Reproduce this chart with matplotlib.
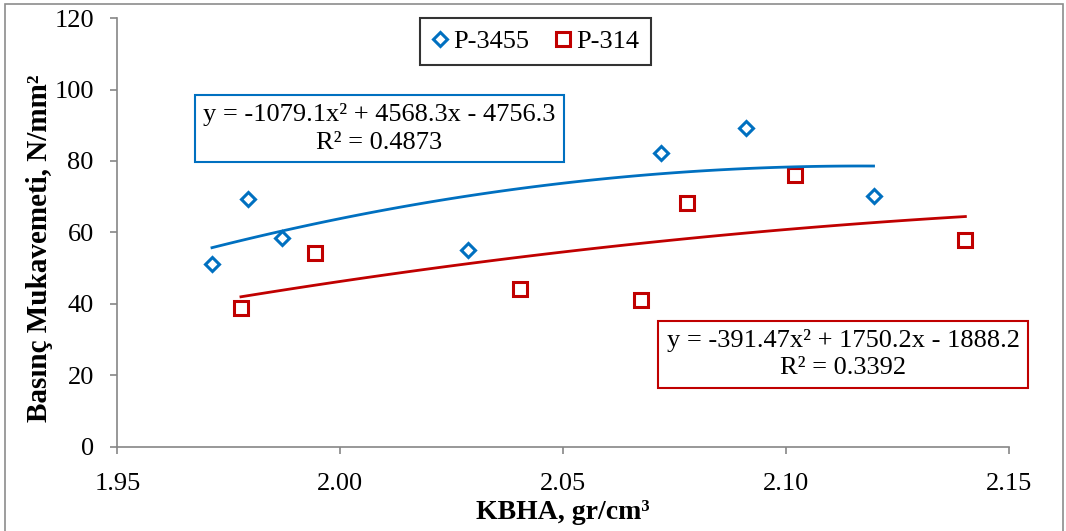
import numpy as np
import matplotlib.pyplot as plt
from matplotlib.patches import Rectangle

plt.rcParams['font.family'] = ['Liberation Serif', 'DejaVu Serif']

# P-3455 (mavi) ve P-314 (kırmızı) ölçümleri
x_3455 = [1.9712, 1.9793, 1.9869, 2.0286, 2.0719, 2.0909, 2.1196]
y_3455 = [51.2, 69.4, 58.5, 55.1, 82.2, 89.2, 70.2]
x_314 = [1.9777, 1.9943, 2.0402, 2.0674, 2.0777, 2.1020, 2.1402]
y_314 = [38.9, 54.3, 44.2, 41.1, 68.3, 76.1, 57.9]

# trend denklemleri (grafikteki katsayılar)
coef_3455 = [-1079.1, 4568.3, -4756.3]
coef_314 = [-391.47, 1750.2, -1888.2]
r2_3455 = 0.4873
r2_314 = 0.3392

blue = '#0070C0'
red = '#C00000'
grey = '#868686'

fig = plt.figure(figsize=(10.66, 5.31), dpi=100)
ax = fig.add_axes([0.1102, 0.1582, 0.8364, 0.8079])

# dış çerçeve
fig.patches.append(Rectangle((0.0047, -0.02), 0.9925, 1.0125, transform=fig.transFigure,
                             fill=False, edgecolor='#8c8c8c', lw=1.2))

ax.plot(x_3455, y_3455, 'D', ms=7.5, mfc='none', mec=blue, mew=2.2, label='P-3455', ls='none')
ax.plot(x_314, y_314, 's', ms=9.5, mfc='none', mec=red, mew=2.2, label='P-314', ls='none')

xx = np.linspace(min(x_3455), max(x_3455), 100)
ax.plot(xx, np.polyval(coef_3455, xx), color=blue, lw=2)
xx = np.linspace(min(x_314), max(x_314), 100)
ax.plot(xx, np.polyval(coef_314, xx), color=red, lw=2)

ax.text(2.0087, 89.1, f'y = -1079.1x² + 4568.3x - 4756.3\nR² = {r2_3455}', ha='center', va='center',
        fontsize=19, linespacing=1.3,
        bbox=dict(boxstyle='square,pad=0.32', fc='white', ec=blue, lw=1.5))
ax.text(2.1128, 26.0, f'y = -391.47x² + 1750.2x - 1888.2\nR² = {r2_314}', ha='center', va='center',
        fontsize=19, linespacing=1.3,
        bbox=dict(boxstyle='square,pad=0.32', fc='white', ec=red, lw=1.5))

ax.set_xlim(1.95, 2.15)
ax.set_ylim(0, 120)
ax.set_xticks([1.95, 2.00, 2.05, 2.10, 2.15])
ax.set_xticklabels(['1.95', '2.00', '2.05', '2.10', '2.15'])
ax.set_yticks(range(0, 121, 20))

for s in ['top', 'right']:
    ax.spines[s].set_visible(False)
for s in ['left', 'bottom']:
    ax.spines[s].set_color(grey)
    ax.spines[s].set_linewidth(1.2)
ax.tick_params(axis='both', colors=grey, labelcolor='black', labelsize=19, length=5, width=1.2)
ax.tick_params(axis='y', pad=12)
ax.tick_params(axis='x', pad=14)

ax.set_xlabel('KBHA, gr/cm³', fontsize=20, fontweight='bold', labelpad=3)
ax.set_ylabel('Basınç Mukavemeti, N/mm²', fontsize=21, fontweight='bold', va='center')
ax.yaxis.set_label_coords(-0.088, 0.464)

leg = ax.legend(loc='upper center', bbox_to_anchor=(0.469, 1.0), ncol=2, fontsize=19,
                frameon=True, fancybox=False, borderaxespad=0, handlelength=0.6,
                handletextpad=0.2, columnspacing=1.0, borderpad=0.45)
leg.get_frame().set_edgecolor('black')
leg.get_frame().set_linewidth(1.5)

fig.savefig('out.png', dpi=100)
